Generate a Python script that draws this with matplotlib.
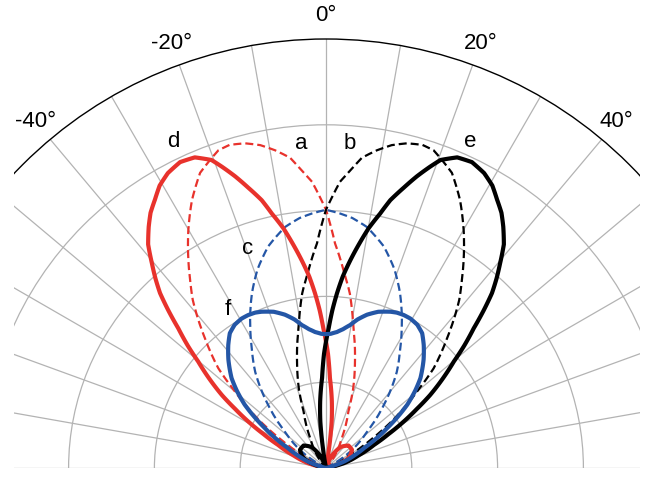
import numpy as np
import matplotlib
matplotlib.use("Agg")
import matplotlib.pyplot as plt
from matplotlib.patches import Rectangle

plt.rcParams['font.family'] = ['Liberation Sans', 'DejaVu Sans']

RED = '#e8322c'
BLUE = '#2456a6'
BLACK = '#000000'

# curve a: red dashed (angle in degrees, radius in grid units)
a_theta = [-67, -63, -58, -54, -50, -47.2, -43, -38.4, -35.9, -32.3, -30.1, -26.6, -23.1, -18.7,
           -16.6, -14, -11.5, -9.1, -6.6, -4.7, -2.8, -1.3, 0, 2.3, 5, 7.8, 11.1, 15.3, 19.1,
           21.6, 27.9, 37, 45]
a_r = [0, 0.2, 0.6, 1.0, 1.38, 1.71, 2.07, 2.50, 2.70, 3.01, 3.20, 3.49, 3.74, 3.91,
       3.93, 3.90, 3.84, 3.75, 3.64, 3.48, 3.34, 3.16, 3.01, 2.62, 2.32, 2.05, 1.66, 1.28, 0.96,
       0.71, 0.39, 0.14, 0]

# curve b: black dashed
b_theta = [67, 63, 58, 54, 50, 47.2, 43, 38.4, 35.9, 32.3, 30.1, 26.6, 23.1, 18.7,
           16.6, 14, 11.5, 9.1, 6.6, 4.7, 2.8, 1.3, 0, -2.3, -5, -7.8, -11.1, -15.3, -19.1,
           -21.6, -27.9, -37, -45]
b_r = [0, 0.2, 0.6, 1.0, 1.38, 1.71, 2.07, 2.50, 2.70, 3.01, 3.20, 3.49, 3.74, 3.91,
       3.93, 3.90, 3.84, 3.75, 3.64, 3.48, 3.34, 3.16, 3.01, 2.62, 2.32, 2.05, 1.66, 1.28, 0.96,
       0.71, 0.39, 0.14, 0]

# curve c: blue dashed
c_theta = [-63, -56, -52, -48.5, -42.5, -36.4, -32, -28.5, -23, -19, -14.6, -9.6, -6, -3.2, 0,
           3.2, 6, 9.6, 14.6, 19, 23, 28.5, 32, 36.4, 42.5, 48.5, 52, 56, 63]
c_r = [0, 0.34, 0.5, 0.64, 1.0, 1.39, 1.63, 1.85, 2.21, 2.45, 2.67, 2.85, 2.93, 2.97, 3.01,
       2.97, 2.93, 2.85, 2.67, 2.45, 2.21, 1.85, 1.63, 1.39, 1.0, 0.64, 0.5, 0.34, 0]

# curve d: red solid, main lobe then small side lobe
d_theta = [-80, -75, -69, -64.3, -61.5, -59.2, -57, -55, -52.5, -50.2, -48.5, -46.6, -45, -43.5,
           -42, -40.4, -38.5, -36.3, -34.5, -32.5, -30.5, -28.2, -25.5, -22.9, -20.4, -19, -17.3,
           -15.5, -13.5, -12, -10.1, -8.5, -6.7, -5, -3.6, -2.3, -1.1, 1, 2.5, 5, 7, 9, 11,
           18, 25, 35, 45, 55, 65, 72, 80]
d_r = [0, 0.21, 0.4, 0.62, 0.83, 1.05, 1.26, 1.48, 1.72, 1.94, 2.15, 2.37, 2.6, 2.81,
       2.97, 3.13, 3.33, 3.49, 3.61, 3.71, 3.82, 3.90, 3.95, 3.93, 3.83, 3.71, 3.56,
       3.39, 3.21, 3.03, 2.84, 2.65, 2.44, 2.24, 2.04, 1.84, 1.63, 1.33, 1.05, 0.78, 0.54, 0.2, 0,
       0, 0.15, 0.3, 0.37, 0.37, 0.3, 0.18, 0]

# curve e: black solid (mirror of d)
e_theta = [80, 75, 69, 64.3, 61.5, 59.2, 57, 55, 52.5, 50.2, 48.5, 46.6, 45, 43.5,
           42, 40.4, 38.5, 36.3, 34.5, 32.5, 30.5, 28.2, 25.5, 22.9, 20.4, 19, 17.3,
           15.5, 13.5, 12, 10.1, 8.5, 6.7, 5, 3.6, 2.3, 1.1, -1, -2.5, -5, -7, -9, -11,
           -18, -25, -35, -45, -55, -65, -72, -80]
e_r = [0, 0.21, 0.4, 0.62, 0.83, 1.05, 1.26, 1.48, 1.72, 1.94, 2.15, 2.37, 2.6, 2.81,
       2.97, 3.13, 3.33, 3.49, 3.61, 3.71, 3.82, 3.90, 3.95, 3.93, 3.83, 3.71, 3.56,
       3.39, 3.21, 3.03, 2.84, 2.65, 2.44, 2.24, 2.04, 1.84, 1.63, 1.33, 1.05, 0.78, 0.54, 0.2, 0,
       0, 0.15, 0.3, 0.37, 0.37, 0.3, 0.18, 0]

# curve f: blue solid (heart shape)
f_theta = [-76, -70.4, -66, -62.4, -56.9, -52.1, -49, -46.4, -42, -38.5, -35.5, -32.5, -29.5,
           -27, -24.5, -22.4, -18.5, -15, -12, -9.6, -7, -4.6, -2, 0,
           2, 4.6, 7, 9.6, 12, 15, 18.5, 22.4, 24.5, 27, 29.5, 32.5, 35.5, 38.5, 42, 46.4, 49,
           52.1, 56.9, 62.4, 66, 70.4, 76]
f_r = [0, 0.22, 0.36, 0.50, 0.85, 1.20, 1.38, 1.52, 1.70, 1.83, 1.93, 1.98, 2.0,
       2.0, 1.99, 1.97, 1.92, 1.85, 1.77, 1.69, 1.63, 1.59, 1.565, 1.56,
       1.565, 1.59, 1.63, 1.69, 1.77, 1.85, 1.92, 1.97, 1.99, 2.0, 2.0, 1.98, 1.93, 1.83, 1.70,
       1.52, 1.38, 1.20, 0.85, 0.50, 0.36, 0.22, 0]

angle_ticks = list(range(-90, 91, 10))
angle_labels = [-40, -20, 0, 20, 40]

# curve name labels (angle, radius)
names = ['a', 'b', 'c', 'd', 'e', 'f']
name_theta = [-4.3, 4.2, -19.5, -25.1, 23.8, -31.7]
name_r = [3.79, 3.79, 2.72, 4.2, 4.16, 2.17]

fig = plt.figure(figsize=(6.62, 4.87), dpi=100)
# the half-disc sits inside a square box; centre at (326, 468) px, radius 429 px
ax = fig.add_axes([-103 / 662, -195.5 / 487, 858 / 662, 858 / 487], projection='polar')
ax.set_theta_zero_location('N')
ax.set_theta_direction(-1)
ax.set_thetamin(-90)
ax.set_thetamax(90)
ax.set_rlim(0, 5)
ax.set_yticks([1, 2, 3, 4])
ax.set_yticklabels([])
ax.set_xticks(np.deg2rad(angle_ticks))
ax.set_xticklabels([])
ax.grid(color='#b3b3b3', lw=0.9)
# polar draw() forces start/end spines on, so hide them by width
for sp in ['start', 'end']:
    ax.spines[sp].set_linewidth(0)
ax.spines['polar'].set_linewidth(1.0)
ax.tick_params(axis='x', direction='inout', length=6, width=0.8)

dash = (0, (3.6, 1.8))
curves = [
    (a_theta, a_r, RED, 1.6, dash),
    (b_theta, b_r, BLACK, 1.6, dash),
    (c_theta, c_r, BLUE, 1.6, dash),
    (d_theta, d_r, RED, 3.0, '-'),
    (e_theta, e_r, BLACK, 3.0, '-'),
    (f_theta, f_r, BLUE, 3.0, '-'),
]
for th, r, col, lw, ls in curves:
    line, = ax.plot(np.deg2rad(th), r, color=col, lw=lw, ls=ls)
    line.get_path()._interpolation_steps = 8

# crop the wide semicircle like the original figure
for x0, w in [(0, 14 / 662), (640 / 662, 22 / 662)]:
    ax.add_artist(Rectangle((x0, 0), w, 1, transform=fig.transFigure, facecolor='white',
                            edgecolor='none', zorder=5, clip_on=False))

for ang in angle_labels:
    ax.text(np.deg2rad(ang), 5.27, f'{ang}°', ha='center', va='center', fontsize=16,
            zorder=7, clip_on=False)

for s, t, r in zip(names, name_theta, name_r):
    ax.text(np.deg2rad(t), r, s, ha='center', va='center', fontsize=16, zorder=7)

fig.savefig('out.png', dpi=100)
